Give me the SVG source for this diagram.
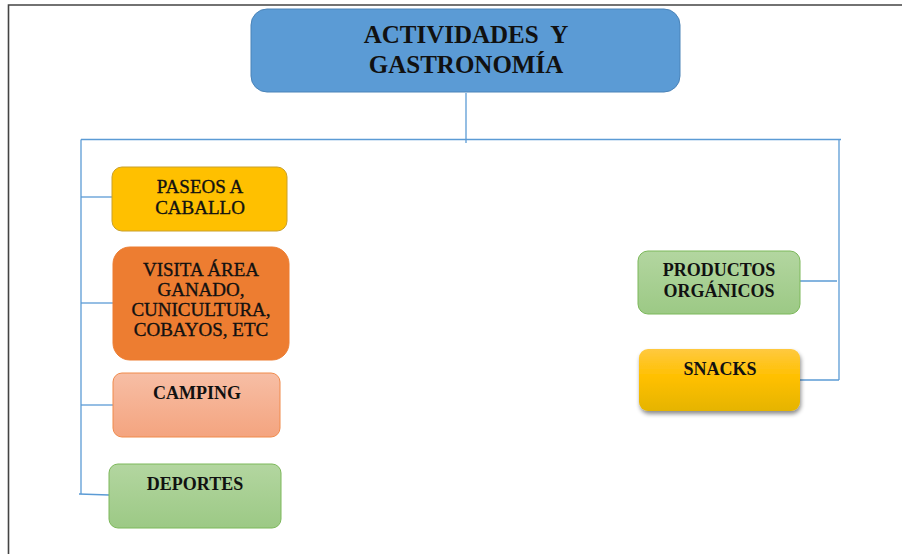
<svg xmlns="http://www.w3.org/2000/svg" width="902" height="554" viewBox="0 0 902 554">
<style>
.t{font-family:"Liberation Serif","Times New Roman",serif;fill:#111;text-anchor:middle;white-space:pre}
.r{font-size:19px;stroke:#111;stroke-width:0.35}
.b{font-size:18px;font-weight:bold}
.ttl{font-size:25px;font-weight:bold}
.c{stroke:#5b9bd5;stroke-width:1.3;fill:none}
</style>
<defs>
<linearGradient id="gCamp" x1="0" y1="0" x2="0" y2="1"><stop offset="0" stop-color="#f7bea5"/><stop offset="1" stop-color="#f4a47f"/></linearGradient>
<linearGradient id="gGreen" x1="0" y1="0" x2="0" y2="1"><stop offset="0" stop-color="#b3d6a0"/><stop offset="1" stop-color="#9cc985"/></linearGradient>
<linearGradient id="gSnack" x1="0" y1="0" x2="0" y2="1"><stop offset="0" stop-color="#ffc93f"/><stop offset="0.45" stop-color="#ffc000"/><stop offset="1" stop-color="#e5b400"/></linearGradient>
<filter id="sh" x="-10%" y="-10%" width="125%" height="140%"><feDropShadow dx="1" dy="3" stdDeviation="2" flood-color="#000" flood-opacity="0.45"/></filter>
</defs>
<rect width="902" height="554" fill="#fff"/>
<g id="page-border" fill="none" stroke="#444" stroke-width="1.6">
<path d="M8.5 554 V5 H902"/>
</g>
<g id="connectors">
<path class="c" d="M466 93 V143"/>
<path class="c" d="M81 139.5 H841"/>
<path class="c" d="M81 139.5 V494"/>
<path class="c" d="M839 140 V380"/>
<path class="c" d="M81 197 H112"/>
<path class="c" d="M81 303 H113"/>
<path class="c" d="M81 405 H113"/>
<path class="c" d="M79 494 L109 495"/>
<path class="c" d="M800 281 H837" stroke="#a9c8e8"/>
<path class="c" d="M800 380 H839"/>
</g>
<g id="title">
<rect x="251" y="9" width="429" height="83" rx="16" fill="#5b9bd5" stroke="#4a83b8" stroke-width="1"/>
<text class="t ttl" x="466" y="43">ACTIVIDADES  Y</text>
<text class="t ttl" x="466" y="73">GASTRONOMÍA</text>
</g>
<g id="paseos">
<rect x="112" y="167" width="175" height="64" rx="10" fill="#ffc000" stroke="#c9a02a" stroke-width="1"/>
<text class="t r" x="200" y="193">PASEOS A</text>
<text class="t r" x="200" y="214">CABALLO</text>
</g>
<g id="visita">
<rect x="113" y="247" width="176" height="113" rx="17" fill="#ed7d31" stroke="#ed7d31" stroke-width="1"/>
<text class="t r" x="201" y="276">VISITA ÁREA</text>
<text class="t r" x="201" y="296">GANADO,</text>
<text class="t r" x="201" y="316">CUNICULTURA,</text>
<text class="t r" x="201" y="336">COBAYOS, ETC</text>
</g>
<g id="camping">
<rect x="113" y="373" width="167" height="64" rx="9" fill="url(#gCamp)" stroke="#f08a4b" stroke-width="1"/>
<text class="t b" x="197" y="399">CAMPING</text>
</g>
<g id="deportes">
<rect x="109" y="464" width="172" height="64" rx="9" fill="url(#gGreen)" stroke="#7cb85a" stroke-width="1"/>
<text class="t b" x="195" y="490">DEPORTES</text>
</g>
<g id="productos">
<rect x="638" y="251" width="162" height="63" rx="10" fill="url(#gGreen)" stroke="#7cb85a" stroke-width="1"/>
<text class="t b" x="719" y="276">PRODUCTOS</text>
<text class="t b" x="719" y="297">ORGÁNICOS</text>
</g>
<g id="snacks">
<rect x="639" y="349" width="161" height="62" rx="9" fill="url(#gSnack)" filter="url(#sh)"/>
<text class="t b" x="720" y="375">SNACKS</text>
</g>
</svg>
